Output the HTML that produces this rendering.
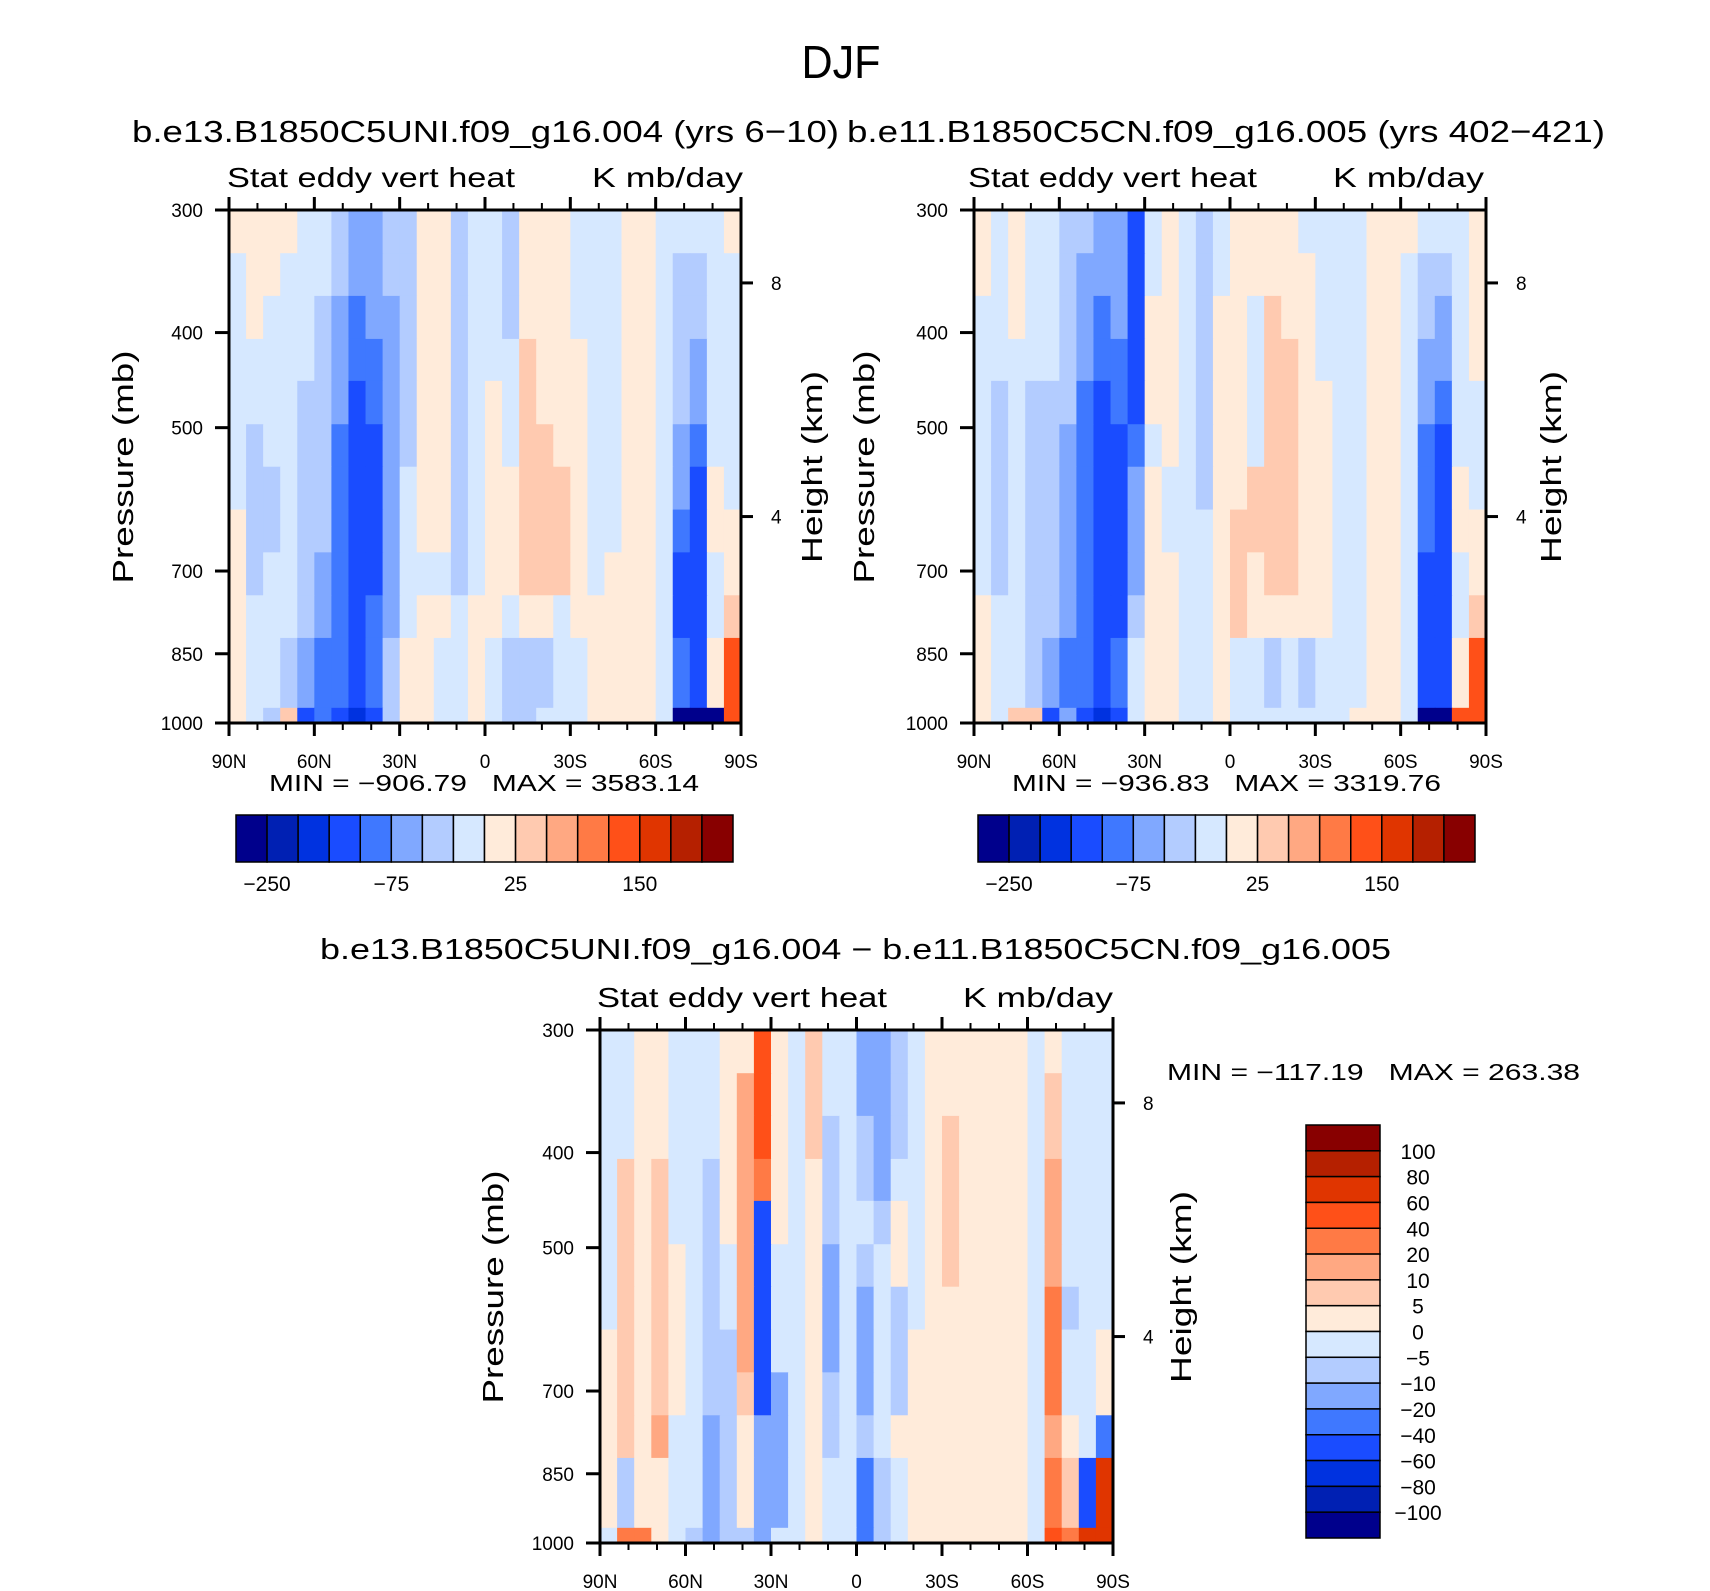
<!DOCTYPE html>
<html><head><meta charset="utf-8"><style>
html,body{margin:0;padding:0;background:#fff;}
svg{display:block;font-family:"Liberation Sans",sans-serif;}
</style></head><body>
<svg id="fig" width="1710" height="1591" viewBox="0 0 1710 1591" xmlns="http://www.w3.org/2000/svg">
<text x="841" y="78" font-size="46" text-anchor="middle" textLength="79" lengthAdjust="spacingAndGlyphs">DJF</text>
<text x="132" y="142" font-size="31" textLength="707" lengthAdjust="spacingAndGlyphs">b.e13.B1850C5UNI.f09_g16.004 (yrs 6−10)</text>
<text x="847" y="142" font-size="31" textLength="758" lengthAdjust="spacingAndGlyphs">b.e11.B1850C5CN.f09_g16.005 (yrs 402−421)</text>
<text x="320" y="959" font-size="29" textLength="1071" lengthAdjust="spacingAndGlyphs">b.e13.B1850C5UNI.f09_g16.004 − b.e11.B1850C5CN.f09_g16.005</text>
<g id="layer"></g>
</svg>
<script>
// ---------- data ----------
const lats = [90,-90];
const pTop = 300, pBot = 1000;
const pressureTicks = [300,400,500,700,850,1000];
const pressureEdges = [300,332,367,406,448,496,548,606,670,741,819,965,1000];
const heightTicks = [8,4];
const heightTickPressures = [356,616];
const latTickLabels = ['90N','60N','30N','0','30S','60S','90S'];
const levelsMain = [-250,-200,-150,-100,-75,-50,-25,0,25,50,75,100,150,200,250];
const levelsDiff = [-100,-80,-60,-40,-20,-10,-5,0,5,10,20,40,60,80,100];
const cbLabelsMain = ['−250','−75','25','150'];
const cbLabelIdxMain = [1,5,9,13];
const colors = ['#00008c','#0020b3','#0032e0','#1a4cff','#3f78ff','#80a8ff','#b3ccff','#d6e8ff','#ffebda','#ffcab0','#ffa882','#ff7a45','#ff5018','#e03500','#b52000','#880000'];

const field1 = [
[10,10,10,10,-10,-10,-35,-60,-60,-35,-35,10,10,-35,-10,-10,-35,10,10,10,-10,-10,-10,10,10,-10,-10,-10,-10,10],
[-10,10,10,-10,-10,-10,-35,-60,-60,-35,-35,10,10,-35,-10,-10,-35,10,10,10,-10,-10,-10,10,10,-10,-35,-35,-10,-10],
[-10,10,-10,-10,-10,-35,-60,-90,-60,-60,-35,10,10,-35,-10,-10,-35,10,10,10,-10,-10,-10,10,10,-10,-35,-35,-10,-10],
[-10,-10,-10,-10,-10,-35,-60,-90,-90,-60,-35,10,10,-35,-10,-10,-10,35,10,10,10,-10,-10,10,10,-10,-35,-60,-10,-10],
[-10,-10,-10,-10,-35,-35,-60,-120,-90,-60,-35,10,10,-35,-10,10,-10,35,10,10,10,-10,-10,10,10,-10,-35,-60,-10,-10],
[-10,-35,-10,-10,-35,-35,-90,-120,-120,-60,-35,10,10,-35,-10,10,-10,35,35,10,10,-10,-10,10,10,-10,-60,-90,-10,-10],
[-10,-35,-35,-10,-35,-35,-90,-120,-120,-60,-10,10,10,-35,-10,10,10,35,35,35,10,-10,-10,10,10,-10,-60,-120,10,-10],
[10,-35,-35,-10,-35,-35,-90,-120,-120,-60,-10,10,10,-35,-10,10,10,35,35,35,10,-10,-10,10,10,-10,-90,-120,10,10],
[10,-35,-10,-10,-35,-60,-90,-120,-120,-60,-10,-10,-10,-35,-10,10,10,35,35,35,10,-10,10,10,10,-10,-120,-120,-10,10],
[10,-10,-10,-10,-35,-60,-90,-120,-90,-60,-10,10,10,-10,10,10,-10,10,10,-10,10,10,10,10,10,-10,-120,-120,-10,35],
[10,-10,-10,-35,-60,-90,-90,-120,-90,-35,10,10,-10,-10,10,-10,-35,-35,-35,-10,-10,10,10,10,10,-10,-90,-120,10,120],
[10,-10,-35,30,-120,-90,-120,-170,-120,-35,10,10,-10,-10,10,-10,-35,-35,-10,-10,-10,10,10,10,10,-10,-300,-300,-300,120]
];
const field2 = [
[10,-10,10,-10,-10,-35,-35,-60,-60,-120,-10,10,-10,-35,-10,10,10,10,10,-10,-10,-10,-10,10,10,10,-10,-10,-10,10],
[10,-10,10,-10,-10,-35,-60,-60,-60,-120,-10,10,-10,-35,-10,10,10,10,10,10,-10,-10,-10,10,10,-10,-35,-35,-10,10],
[-10,-10,10,-10,-10,-35,-60,-90,-60,-120,10,10,-10,-35,10,10,-10,35,10,10,-10,-10,-10,10,10,-10,-35,-60,-10,10],
[-10,-10,-10,-10,-10,-35,-60,-90,-90,-120,10,10,-10,-35,10,10,-10,35,35,10,-10,-10,-10,10,10,-10,-60,-60,-10,10],
[-10,-35,-10,-35,-35,-35,-90,-120,-90,-120,10,10,-10,-35,10,10,-10,35,35,10,10,-10,-10,10,10,-10,-60,-90,-10,-10],
[-10,-35,-10,-35,-35,-60,-90,-120,-120,-90,-10,10,-10,-35,10,10,-10,35,35,10,10,-10,-10,10,10,-10,-90,-120,-10,-10],
[-10,-35,-10,-35,-35,-60,-90,-120,-120,-60,10,-10,-10,-35,10,10,35,35,35,10,10,-10,-10,10,10,-10,-90,-120,10,-10],
[-10,-35,-10,-35,-35,-60,-90,-120,-120,-60,10,-10,-10,-10,10,35,35,35,35,10,10,-10,-10,10,10,-10,-90,-120,10,10],
[-10,-35,-10,-35,-35,-60,-90,-120,-120,-60,10,10,-10,-10,10,35,10,35,35,10,10,-10,-10,10,10,-10,-120,-120,-10,10],
[10,-10,-10,-35,-35,-60,-90,-120,-120,-35,10,10,-10,-10,10,35,10,10,10,10,10,-10,-10,10,10,-10,-120,-120,-10,35],
[10,-10,-10,-35,-60,-90,-90,-120,-90,-10,10,10,-10,-10,10,-10,-10,-35,-10,-35,-10,-10,-10,10,10,-10,-120,-120,10,120],
[10,-10,30,30,-120,-60,-120,-170,-120,-10,10,10,-10,-10,10,-10,-10,-10,-10,-10,-10,-10,10,10,10,-10,-300,-300,120,120]
];
const field3 = [
[-3,-3,3,3,-3,-3,-3,3,3,50,3,-3,7,-3,-3,-15,-15,-7,-3,3,3,3,3,3,3,-3,3,-3,-3,-3],
[-3,-3,3,3,-3,-3,-3,3,15,50,3,-3,7,-3,-3,-15,-15,-7,-3,3,3,3,3,3,3,-3,7,-3,-3,-3],
[-3,-3,3,3,-3,-3,-3,3,15,50,3,-3,7,-7,-3,-7,-15,-7,-3,3,7,3,3,3,3,-3,7,-3,-3,-3],
[-3,7,3,7,-3,-3,-7,3,15,30,3,-3,3,-7,-3,-7,-15,-3,-3,3,7,3,3,3,3,-3,15,-3,-3,-3],
[-3,7,3,7,-3,-3,-7,3,15,-50,3,-3,3,-7,-3,-3,-7,3,-3,3,7,3,3,3,3,-3,15,-3,-3,-3],
[-3,7,3,7,3,-3,-7,-3,15,-50,-3,-3,3,-15,-3,-7,-3,3,-3,3,7,3,3,3,3,-3,15,-3,-3,-3],
[-3,7,3,7,3,-3,-7,-3,15,-50,-3,-3,3,-15,-3,-15,-3,-7,-3,3,3,3,3,3,3,-3,30,-7,-3,-3],
[3,7,3,7,3,-3,-7,-7,15,-50,-3,-3,3,-15,-3,-15,-3,-7,3,3,3,3,3,3,3,-3,30,-3,-3,3],
[3,7,3,7,3,-3,-7,-7,7,-50,-15,-3,3,-7,-3,-15,-3,-7,3,3,3,3,3,3,3,-3,30,-3,-3,3],
[3,7,3,15,-3,-3,-15,-7,3,-15,-15,-3,3,-7,-3,-7,-3,3,3,3,3,3,3,3,3,-3,15,3,-3,-30],
[3,-7,3,3,-3,-3,-15,-7,3,-15,-15,-3,3,-3,-3,-30,-7,-3,3,3,3,3,3,3,3,-3,30,7,-50,70],
[-3,30,30,3,-3,-7,-15,-7,-7,-15,-3,-3,3,-3,-3,-30,-7,-3,3,3,3,3,3,3,3,-3,50,30,70,70]
];
const minmax1 = ['−906.79','3583.14'];
const minmax2 = ['−936.83','3319.76'];
const minmax3 = ['−117.19','263.38'];
const cbLabelsDiff = ['100','80','60','40','20','10','5','0','−5','−10','−20','−40','−60','−80','−100'];

// ---------- drawing ----------
const NS='http://www.w3.org/2000/svg';
const layer=document.getElementById('layer');
function el(tag,attrs,parent){const e=document.createElementNS(NS,tag);for(const k in attrs)e.setAttribute(k,attrs[k]);(parent||layer).appendChild(e);return e;}
function colorFor(v,levels){let i=0;while(i<levels.length&&v>=levels[i])i++;return colors[i];}

function drawPanel(id,x0,y0,w,h,field,levels,stX,stW,kX,kW){
  const g=el('g',{});
  
  
  const yScale=p=>y0+h*(Math.log(p/pTop)/Math.log(pBot/pTop));
  const xScale=lat=>x0+w*(lats[0]-lat)/(lats[0]-lats[1]);
  const nr=field.length;
  const cg=el('g',{},g);
  
  
  for(let r=0;r<nr;r++){
    const nc=field[r].length;
    const ya=yScale(pressureEdges[r]), yb=yScale(pressureEdges[r+1]);
    for(let c=0;c<nc;c++){
      const lat0=lats[0]-(lats[0]-lats[1])*c/nc, lat1=lats[0]-(lats[0]-lats[1])*(c+1)/nc;
      const xa=xScale(lat0), xb=xScale(lat1);
      const rc=el('rect',{x:xa.toFixed(2),y:ya.toFixed(2),width:(xb-xa+0.6).toFixed(2),height:(yb-ya+0.6).toFixed(2),fill:colorFor(field[r][c],levels)},cg);
      
      
    }
  }
  const frame=el('rect',{x:x0,y:y0,width:w,height:h,fill:'none',stroke:'#000','stroke-width':3},g);
  
  
  for(let lat=90;lat>=-90;lat-=10){
    const x=xScale(lat), major=(lat%30===0);
    const L=major?13:7;
    el('line',{x1:x,y1:y0+h,x2:x,y2:y0+h+L,stroke:'#000','stroke-width':major?3:2},g);
    el('line',{x1:x,y1:y0,x2:x,y2:y0-L,stroke:'#000','stroke-width':major?3:2},g);
  }
  latTickLabels.forEach((t,i)=>{
    const lat=90-30*i;
    const tx=el('text',{x:xScale(lat),y:y0+h+45,'font-size':19,'text-anchor':'middle'},g);
    tx.textContent=t;
    
    
  });
  pressureTicks.forEach(p=>{
    const y=yScale(p);
    el('line',{x1:x0-14,y1:y,x2:x0,y2:y,stroke:'#000','stroke-width':3},g);
    const tx=el('text',{x:x0-26,y:y+7,'font-size':19,'text-anchor':'end'},g);
    tx.textContent=p;
    
    
  });
  heightTicks.forEach((z,i)=>{
    const y=yScale(heightTickPressures[i]);
    el('line',{x1:x0+w,y1:y,x2:x0+w+12,y2:y,stroke:'#000','stroke-width':3},g);
    const tx=el('text',{x:x0+w+30,y:y+7,'font-size':19},g);
    tx.textContent=z;
    
    
  });
  const st=el('text',{x:stX,y:y0-23,'font-size':28,textLength:stW,lengthAdjust:'spacingAndGlyphs'},g);
  st.textContent='Stat eddy vert heat';
  
  
  const ku=el('text',{x:kX,y:y0-23,'font-size':28,textLength:kW,lengthAdjust:'spacingAndGlyphs'},g);
  ku.textContent='K mb/day';
  
  
  return {yScale,xScale,g};
}
function axisTitles(cxP,cxH,cy,pLen,hLen){
  const pt=el('text',{x:0,y:0,'font-size':29,'text-anchor':'middle',transform:`translate(${cxP},${cy}) rotate(-90)`,textLength:pLen,lengthAdjust:'spacingAndGlyphs'});
  pt.textContent='Pressure (mb)';
  
  
  const ht=el('text',{x:0,y:0,'font-size':29,'text-anchor':'middle',transform:`translate(${cxH},${cy}) rotate(-90)`,textLength:hLen,lengthAdjust:'spacingAndGlyphs'});
  ht.textContent='Height (km)';
  
  
}
function minmax(x,y,w,mm){
  const t=el('text',{x:x,y:y,'font-size':23,textLength:w,lengthAdjust:'spacingAndGlyphs',style:'white-space:pre'});
  t.textContent='MIN = '+mm[0]+'   MAX = '+mm[1];
  
  
}
function hColorbar(x0,y0,w,h){
  const g=el('g',{});
  
  
  const bw=w/colors.length;
  colors.forEach((c,i)=>{
    const r=el('rect',{x:x0+i*bw,y:y0,width:bw,height:h,fill:c,stroke:'#000','stroke-width':1.5},g);
    
    
  });
  cbLabelsMain.forEach((t,i)=>{
    const tx=el('text',{x:x0+cbLabelIdxMain[i]*bw,y:y0+h+29,'font-size':21,'text-anchor':'middle'},g);
    tx.textContent=t;
    
    
  });
}

drawPanel('panel1',229,210,512,513,field1,levelsMain,227,288,592,151);
drawPanel('panel2',974,210,512,513,field2,levelsMain,968,289,1333,151);
drawPanel('panel3',600,1030,513,513,field3,levelsDiff,597,290,963,150);
axisTitles(133,822,467,233,192);
axisTitles(874,1561,467,233,192);
axisTitles(503,1191,1287,233,192);
minmax(269,791,430,minmax1);
minmax(1012,791,429,minmax2);
minmax(1167,1080,413,minmax3);
hColorbar(236,815,497,47);
hColorbar(978,815,497,47);

(function(){
  const g=el('g',{});
  
  
  const x0=1306,y0=1125,w=74,h=413,n=colors.length,bh=h/n;
  for(let i=0;i<n;i++){
    const r=el('rect',{x:x0,y:y0+i*bh,width:w,height:bh,fill:colors[n-1-i],stroke:'#000','stroke-width':1.5},g);
    
    
  }
  cbLabelsDiff.forEach((t,i)=>{
    const tx=el('text',{x:1418,y:y0+(i+1)*bh+8,'font-size':21,'text-anchor':'middle'},g);
    tx.textContent=t;
    
    
  });
})();
</script>
</body></html>
